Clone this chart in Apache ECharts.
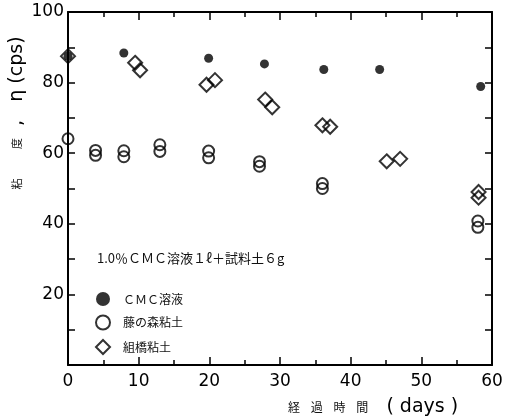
<!DOCTYPE html>
<html>
<head>
<meta charset="utf-8">
<script src="https://cdn.jsdelivr.net/npm/echarts@6/dist/echarts.min.js"></script>
<style>
  html, body { margin: 0; padding: 0; background: #fff; }
  #chart { width: 510px; height: 420px; }
</style>
</head>
<body>
<div id="chart"></div>
<script>
// [days, viscosity cps]
var cmcData = [[0, 87.5], [7.9, 88.4], [19.9, 86.9], [27.8, 85.3], [36.2, 83.7], [44.1, 83.7], [58.4, 78.9]];
var fujinomoriData = [[0, 64.1], [3.9, 60.8], [3.9, 59.4], [7.9, 60.7], [7.9, 59.0], [13.0, 62.4], [13.0, 60.5],
  [19.9, 60.6], [19.9, 58.7], [27.1, 57.6], [27.1, 56.3], [36.0, 51.4], [36.0, 50.0], [58.0, 40.8], [58.0, 39.0]];
var kumihashiData = [[0, 87.5], [9.5, 85.6], [10.2, 83.5], [19.6, 79.4], [20.8, 80.7], [27.9, 75.2], [28.9, 73.0],
  [36.0, 67.9], [37.1, 67.5], [45.1, 57.7], [47.0, 58.4], [58.1, 49.0], [58.1, 47.4]];
var seriesNames = ['ＣＭＣ溶液', '藤の森粘土', '組橋粘土'];
var noteText = '1.0％ＣＭＣ溶液１ℓ＋試料土６g';

var chart = echarts.init(document.getElementById('chart'));

var tickFont = { fontFamily: 'DejaVu Sans', fontSize: 17, color: '#000' };

// frame axis: ticks inside, no labels by default
function frameAxis(pos, isX) {
  var ax = {
    type: 'value', position: pos, min: 0,
    max: isX ? 60 : 100, interval: 10,
    axisLine: { show: true, onZero: false, lineStyle: { color: '#000', width: 2 } },
    axisTick: { show: true, inside: true, length: isX ? 8 : 7, lineStyle: { color: '#000', width: 1.5 } },
    axisLabel: { show: false },
    splitLine: { show: false }
  };
  if (isX) {
    ax.minorTick = { show: true, splitNumber: 2, length: 5, lineStyle: { color: '#000', width: 1.5 } };
  }
  return ax;
}

var xBottom = frameAxis('bottom', true);
xBottom.axisLabel = Object.assign({ show: true, margin: 8 }, tickFont);
var xTop = frameAxis('top', true);

var yLeft = frameAxis('left', false);
yLeft.axisLabel = Object.assign({
  show: true, margin: 4,
  formatter: function (v) { return (v > 0 && v % 20 === 0) ? String(v) : ''; }
}, tickFont);
var yRight = frameAxis('right', false);

chart.setOption({
  animation: false,
  backgroundColor: '#fff',
  grid: { left: 68, right: 18, top: 12, bottom: 55 },
  xAxis: [xBottom, xTop],
  yAxis: [yLeft, yRight],
  legend: {
    orient: 'vertical', left: 90, top: 287,
    itemWidth: 14, itemHeight: 14, itemGap: 8.5,
    textStyle: { fontFamily: 'Noto Sans CJK JP', fontSize: 12, color: '#111', padding: [0, 0, 0, 8] },
    data: seriesNames
  },
  series: [
    {
      name: seriesNames[0], type: 'scatter', data: cmcData,
      symbol: 'circle', symbolSize: 9,
      itemStyle: { color: '#000' }
    },
    {
      name: seriesNames[1], type: 'scatter', data: fujinomoriData,
      symbol: 'circle', symbolSize: 11,
      itemStyle: { color: 'rgba(255,255,255,0)', borderColor: '#000', borderWidth: 2 }
    },
    {
      name: seriesNames[2], type: 'scatter', data: kumihashiData,
      symbol: 'diamond', symbolSize: 14,
      itemStyle: { color: 'rgba(255,255,255,0)', borderColor: '#000', borderWidth: 2 }
    }
  ],
  graphic: [
    {
      type: 'text', left: 97, top: 252,
      style: { text: noteText, font: '13px "Noto Sans CJK JP"', fill: '#111' }
    },
    {
      // y axis name, vertical
      type: 'text', x: 17, y: 113, rotation: Math.PI / 2,
      style: {
        text: '{s|粘            度}{b|  ,   η (cps)}',
        align: 'center', verticalAlign: 'middle',
        rich: {
          s: { fontFamily: 'Noto Sans CJK JP', fontSize: 11, fill: '#111' },
          b: { fontFamily: 'DejaVu Sans', fontSize: 19, fill: '#000' }
        }
      }
    },
    {
      // x axis name
      type: 'text', left: 288, top: 398,
      style: {
        text: '{s|経    過    時    間}{b|   ( days )}',
        rich: {
          s: { fontFamily: 'Noto Sans CJK JP', fontSize: 12, fill: '#111' },
          b: { fontFamily: 'DejaVu Sans', fontSize: 19, fill: '#000' }
        }
      }
    }
  ]
});
</script>
</body>
</html>
